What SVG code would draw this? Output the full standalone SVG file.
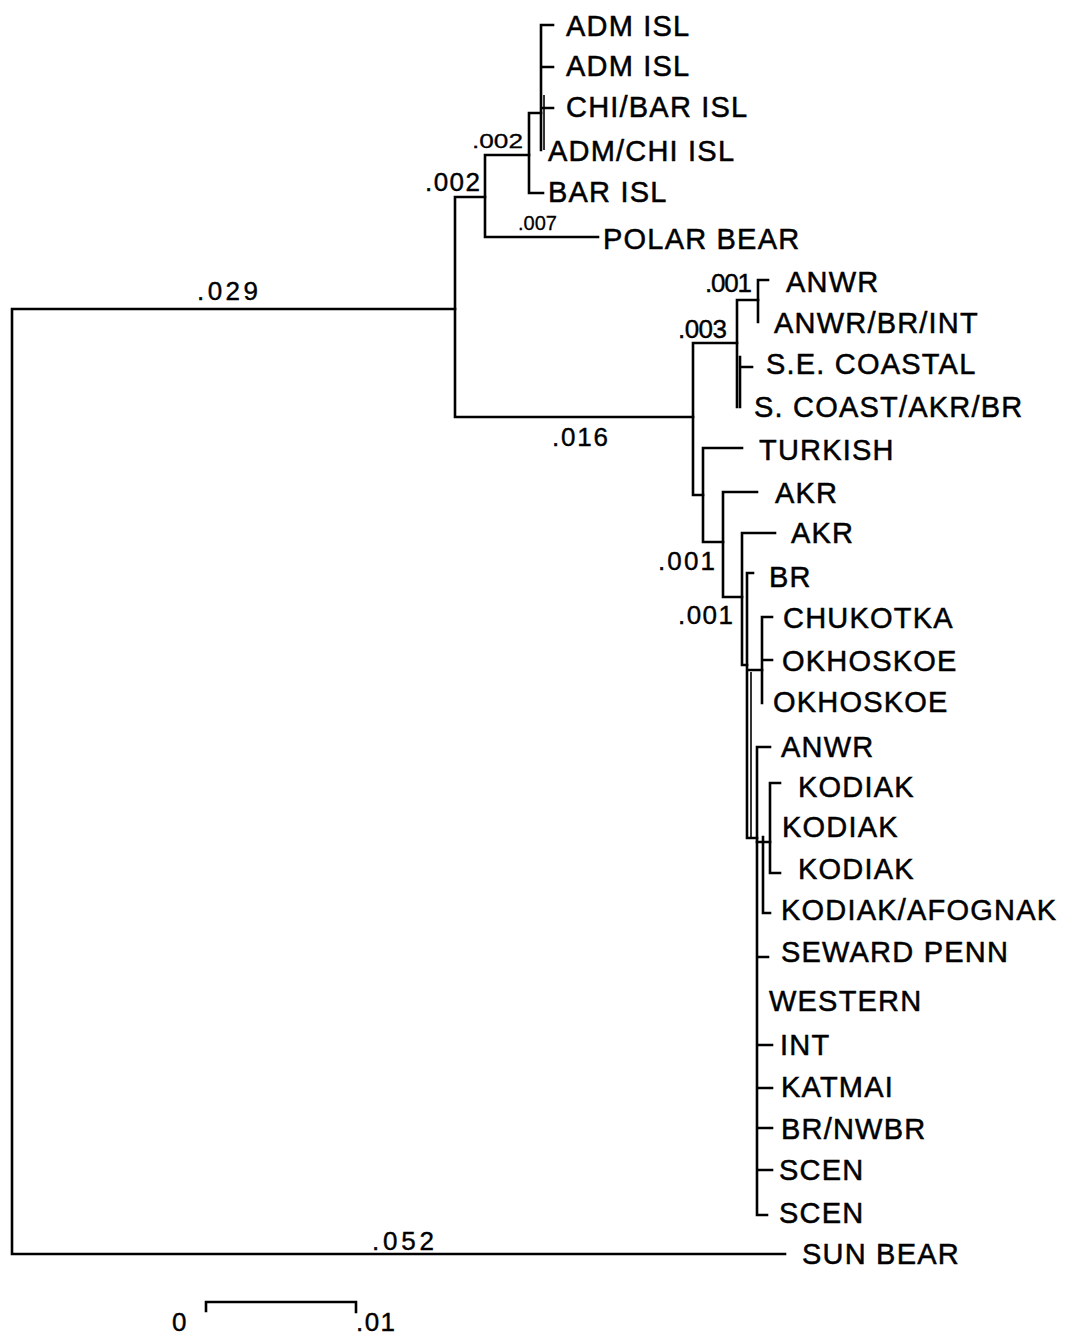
<svg xmlns="http://www.w3.org/2000/svg" width="1068" height="1338" viewBox="0 0 1068 1338">
<style>
.ln{fill:none;stroke:#000;stroke-width:2.6;stroke-linecap:square}
.th{fill:none;stroke:#000;stroke-width:1.6}
.lb{font-family:"Liberation Sans",Arial,sans-serif;font-size:29px;letter-spacing:1.2px;fill:#000;stroke:#000;stroke-width:0.5}
.nm{font-family:"Liberation Sans",Arial,sans-serif;font-size:26px;fill:#000;stroke:#000;stroke-width:0.4}
.sm{font-family:"Liberation Sans",Arial,sans-serif;font-size:21px;fill:#000;stroke:#000;stroke-width:0.3}
</style>
<rect width="1068" height="1338" fill="#fff"/>
<g id="connectors">
<path class="ln" d="M12,309 H455 M12,309 V1254 H785"/>
<path class="ln" d="M455,197 V417 H693 M455,197 H485"/>
<path class="ln" d="M485,155 V237 H598 M485,155 H529"/>
<path class="ln" d="M529,113 V193 H543 M529,113 H541"/>
<path class="ln" d="M541,25 V150 M541,25 H553 M541,67 H553 M541,108 H553"/>
<path class="th" d="M544,95 V150"/>
<path class="ln" d="M693,343 V495 H703 M693,343 H737"/>
<path class="ln" d="M737,300 V407 M737,300 H758"/>
<path class="ln" d="M758,280 V322 M758,280 H768"/>
<path class="ln" d="M740,357 V407 M740,367 H752"/>
<path class="ln" d="M703,448 V542 H723 M703,448 H742"/>
<path class="ln" d="M723,492 V597 H742 M723,492 H757"/>
<path class="ln" d="M742,533 V665 H747 M742,533 H775"/>
<path class="ln" d="M747,573 V838 H757 M747,573 H753 M747,670 H762"/>
<path class="th" d="M751,672 V838"/>
<path class="ln" d="M762,617 V703 M762,617 H772 M762,660 H772"/>
<path class="ln" d="M757,747 V1215 H767 M757,747 H770 M757,957 H768 M757,1045 H772 M757,1088 H772 M757,1128 H772 M757,1170 H772"/>
<path class="ln" d="M757,842 H763 M763,837 V913 H770 M763,842 H770"/>
<path class="ln" d="M770,783 V873 H780 M770,783 H780"/>
</g>
<g id="branch-labels">
<text class="nm" x="197" y="300" textLength="61">.029</text>
<text class="nm" x="552" y="446" textLength="56">.016</text>
<text class="nm" x="425" y="191" textLength="55">.002</text>
<text class="sm" x="472" y="148" textLength="51" lengthAdjust="spacingAndGlyphs">.002</text>
<text class="sm" x="518" y="230" textLength="39" lengthAdjust="spacingAndGlyphs">.007</text>
<text class="nm" x="678" y="338" textLength="49">.003</text>
<text class="nm" x="705" y="292" textLength="47">.001</text>
<text class="nm" x="658" y="570" textLength="57">.001</text>
<text class="nm" x="678" y="624" textLength="55">.001</text>
<text class="nm" x="372" y="1250" textLength="62">.052</text>
</g>
<g id="n-adm1"><text class="lb" x="566" y="36">ADM ISL</text></g>
<g id="n-adm2"><text class="lb" x="566" y="76">ADM ISL</text></g>
<g id="n-chibar"><text class="lb" x="566" y="117">CHI/BAR ISL</text></g>
<g id="n-admchi"><text class="lb" x="548" y="161">ADM/CHI ISL</text></g>
<g id="n-bar"><text class="lb" x="548" y="202">BAR ISL</text></g>
<g id="n-polar"><text class="lb" x="603" y="249">POLAR BEAR</text></g>
<g id="n-anwr1"><text class="lb" x="786" y="292">ANWR</text></g>
<g id="n-anwrbrint"><text class="lb" x="774" y="333">ANWR/BR/INT</text></g>
<g id="n-secoastal"><text class="lb" x="766" y="374">S.E. COASTAL</text></g>
<g id="n-scoast"><text class="lb" x="754" y="417">S. COAST/AKR/BR</text></g>
<g id="n-turkish"><text class="lb" x="759" y="460">TURKISH</text></g>
<g id="n-akr1"><text class="lb" x="775" y="503">AKR</text></g>
<g id="n-akr2"><text class="lb" x="791" y="543">AKR</text></g>
<g id="n-br"><text class="lb" x="769" y="587">BR</text></g>
<g id="n-chukotka"><text class="lb" x="783" y="628">CHUKOTKA</text></g>
<g id="n-okh1"><text class="lb" x="782" y="671">OKHOSKOE</text></g>
<g id="n-okh2"><text class="lb" x="773" y="712">OKHOSKOE</text></g>
<g id="n-anwr2"><text class="lb" x="781" y="757">ANWR</text></g>
<g id="n-kod1"><text class="lb" x="798" y="797">KODIAK</text></g>
<g id="n-kod2"><text class="lb" x="782" y="837">KODIAK</text></g>
<g id="n-kod3"><text class="lb" x="798" y="879">KODIAK</text></g>
<g id="n-kodafog"><text class="lb" x="781" y="920">KODIAK/AFOGNAK</text></g>
<g id="n-seward"><text class="lb" x="781" y="962">SEWARD PENN</text></g>
<g id="n-western"><text class="lb" x="769" y="1011">WESTERN</text></g>
<g id="n-int"><text class="lb" x="780" y="1055">INT</text></g>
<g id="n-katmai"><text class="lb" x="781" y="1097">KATMAI</text></g>
<g id="n-brnwbr"><text class="lb" x="781" y="1139">BR/NWBR</text></g>
<g id="n-scen1"><text class="lb" x="779" y="1180">SCEN</text></g>
<g id="n-scen2"><text class="lb" x="779" y="1223">SCEN</text></g>
<g id="n-sunbear"><text class="lb" x="802" y="1264">SUN BEAR</text></g>
<g id="scale-bar">
<path class="ln" d="M206,1311 V1302 H356 V1312"/>
<text class="nm" x="172" y="1331" font-size="24">0</text>
<text class="nm" x="356" y="1331" font-size="24" textLength="39">.01</text>
</g>
</svg>
